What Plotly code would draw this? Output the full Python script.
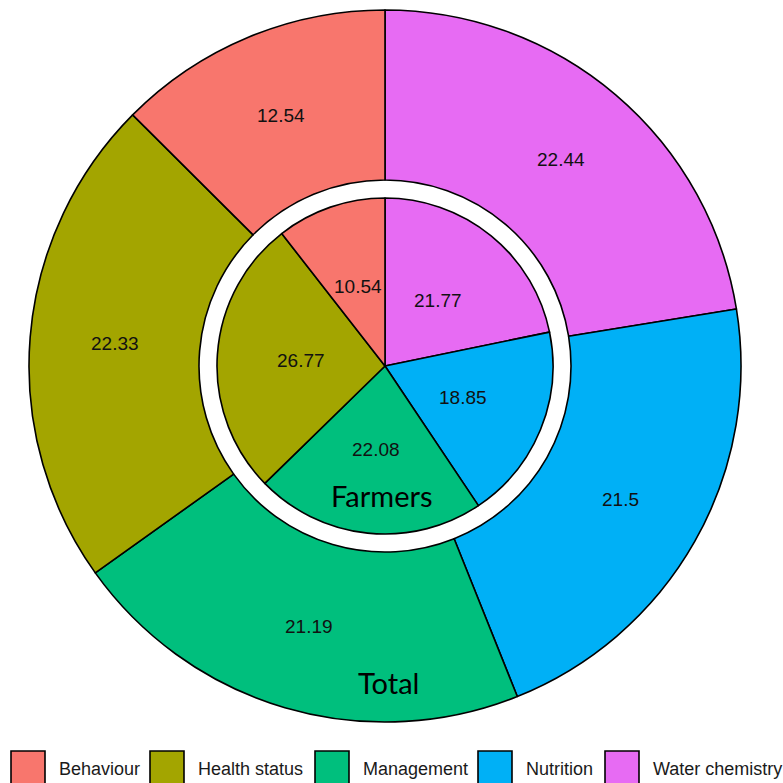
import math
import plotly.graph_objects as go

# Categories in drawing order (clockwise from 12 o'clock)
categories = ["Water chemistry", "Nutrition", "Management", "Health status", "Behaviour"]
total_values = [22.44, 21.5, 21.19, 22.33, 12.54]
farmer_values = [21.77, 18.85, 22.08, 26.77, 10.54]
colors = {
    "Behaviour": "#F8766D",
    "Health status": "#A3A500",
    "Management": "#00BF7D",
    "Nutrition": "#00B0F6",
    "Water chemistry": "#E76BF3",
}
legend_order = ["Behaviour", "Health status", "Management", "Nutrition", "Water chemistry"]

# Canvas geometry (pixels)
W = H = 783
CX, CY = 385, 366
R_OUT, R_GAP, R_IN = 356, 186, 168


def px(x):
    return x / W


def py(y):
    return 1 - y / H


def domain(r):
    return dict(x=[px(CX - r), px(CX + r)], y=[py(CY + r), py(CY - r)])


line = dict(color="black", width=1.6)
slice_colors = [colors[c] for c in categories]

fig = go.Figure()
fig.add_trace(go.Pie(
    labels=categories, values=total_values, sort=False, direction="clockwise",
    rotation=0, hole=R_GAP / R_OUT, domain=domain(R_OUT),
    marker=dict(colors=slice_colors, line=line), textinfo="none",
    showlegend=False, hoverinfo="label+value",
))
fig.add_trace(go.Pie(
    labels=categories, values=farmer_values, sort=False, direction="clockwise",
    rotation=0, domain=domain(R_IN),
    marker=dict(colors=slice_colors, line=line), textinfo="none",
    showlegend=False, hoverinfo="label+value",
))

num_font = dict(family="Liberation Sans, Arial, sans-serif", size=19, color="#111111")


def add_slice_labels(values, radius):
    tot = sum(values)
    cum = 0.0
    for v in values:
        mid = (cum + v / 2) / tot * 2 * math.pi
        cum += v
        x = CX + radius * math.sin(mid)
        y = CY - radius * math.cos(mid)
        fig.add_annotation(x=px(x), y=py(y), xref="paper", yref="paper",
                           text=f"{v:g}", showarrow=False, font=num_font,
                           xanchor="center", yanchor="middle")


add_slice_labels(total_values, (R_GAP + R_OUT) / 2)
add_slice_labels(farmer_values, R_IN / 2)

ring_font = dict(family="Lato, Carlito, sans-serif", size=29, color="black")
fig.add_annotation(x=px(382), y=py(495), xref="paper", yref="paper", text="Farmers",
                   showarrow=False, font=ring_font, xanchor="center", yanchor="middle")
fig.add_annotation(x=px(388), y=py(682), xref="paper", yref="paper", text="Total",
                   showarrow=False, font=ring_font, xanchor="center", yanchor="middle")

# Legend: swatches with labels along the bottom edge
swatch_left = [11, 150, 315, 478, 605]
SW = 34
LEG_TOP = 751
leg_font = dict(family="Liberation Sans, Arial, sans-serif", size=18, color="#1a1a1a")
for name, x0 in zip(legend_order, swatch_left):
    fig.add_shape(type="rect", xref="paper", yref="paper",
                  x0=px(x0), x1=px(x0 + SW), y0=py(LEG_TOP + SW), y1=py(LEG_TOP),
                  fillcolor=colors[name], line=dict(color="black", width=1.6))
    fig.add_annotation(x=px(x0 + SW + 12), y=py(LEG_TOP + 18), xref="paper", yref="paper",
                       text=name, showarrow=False, font=leg_font,
                       xanchor="left", yanchor="middle")

fig.update_layout(
    width=W, height=H, margin=dict(l=0, r=0, t=0, b=0),
    paper_bgcolor="white", plot_bgcolor="white",
)
fig.write_html("out.html")
